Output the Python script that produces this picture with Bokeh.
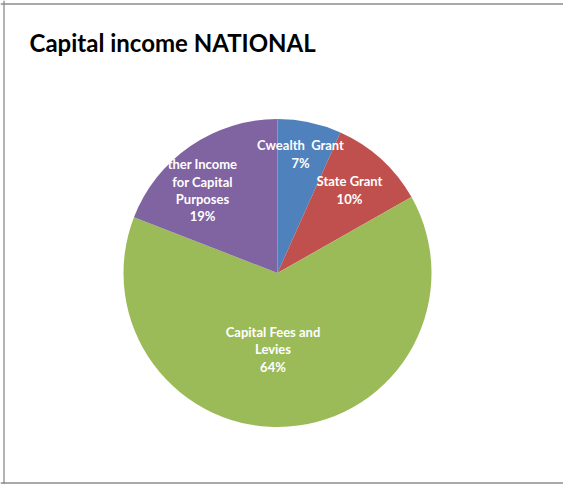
import numpy as np
from bokeh.plotting import figure
from bokeh.models import Range1d, ColumnDataSource, Span
from bokeh.core.properties import value
from bokeh.embed import file_html
from bokeh.resources import INLINE

# ---- data ----
title_text = "Capital income NATIONAL"
categories = ["Cwealth  Grant", "State Grant", "Capital Fees and Levies",
              "Other Income for Capital Purposes"]
values = [6.7, 10.1, 64.1, 19.1]
colors = ["#4F81BD", "#C0504D", "#9BBB59", "#8064A2"]
# label lines as displayed in the chart
label_lines = [["Cwealth\u00a0\u00a0Grant"], ["State Grant"], ["Capital Fees and", "Levies"],
               ["ther Income", "for Capital", "Purposes"]]

# ---- layout (pixel-like data units) ----
W, H = 563, 484
CX, CY, R = 277, 211.5, 154
label_dx = [23, 72, -4.5, -75]
label_dy = [119, 83, -76.5, 82.8]

vals = np.array(values, dtype=float)
frac = vals / vals.sum()
cum = np.concatenate([[0.0], np.cumsum(frac)])
start = np.pi / 2 - 2 * np.pi * cum[:-1]
end = np.pi / 2 - 2 * np.pi * cum[1:]
pct = [f"{int(round(f * 100))}%" for f in frac]
labels = ["\n".join(lines + [p]) for lines, p in zip(label_lines, pct)]

src = ColumnDataSource(dict(
    cat=categories, start=start, end=end, color=colors,
    lx=[CX + d for d in label_dx], ly=[CY + d for d in label_dy], label=labels,
))

p = figure(width=W, height=H, x_range=Range1d(0, W), y_range=Range1d(0, H),
           output_backend="svg", toolbar_location=None, min_border=0,
           x_axis_location=None, y_axis_location=None)
p.grid.visible = False
p.outline_line_color = None
p.background_fill_color = "white"
p.border_fill_color = "white"

# chart border (left, top, bottom)
for loc, dim in [(3.5, "height"), (H - 3.5, "width"), (1.5, "width")]:
    p.add_layout(Span(location=loc, dimension=dim, line_color="#8c8c8c",
                      line_width=1.3))

p.wedge(x=CX, y=CY, radius=R, start_angle="start", end_angle="end",
        direction="clock", fill_color="color", line_color=None, source=src)

p.text(x="lx", y="ly", text="label", source=src, text_align="center",
       text_baseline="middle", text_color="white", text_font=value("Lato"),
       text_font_style="bold", text_font_size="13px", text_line_height=1.08)

p.text(x=[29], y=[442], text=[title_text], text_align="left",
       text_baseline="alphabetic", text_color="black", text_font=value("Lato"),
       text_font_style="bold", text_font_size="24px")

open("out.html", "w").write(file_html(p, INLINE))
